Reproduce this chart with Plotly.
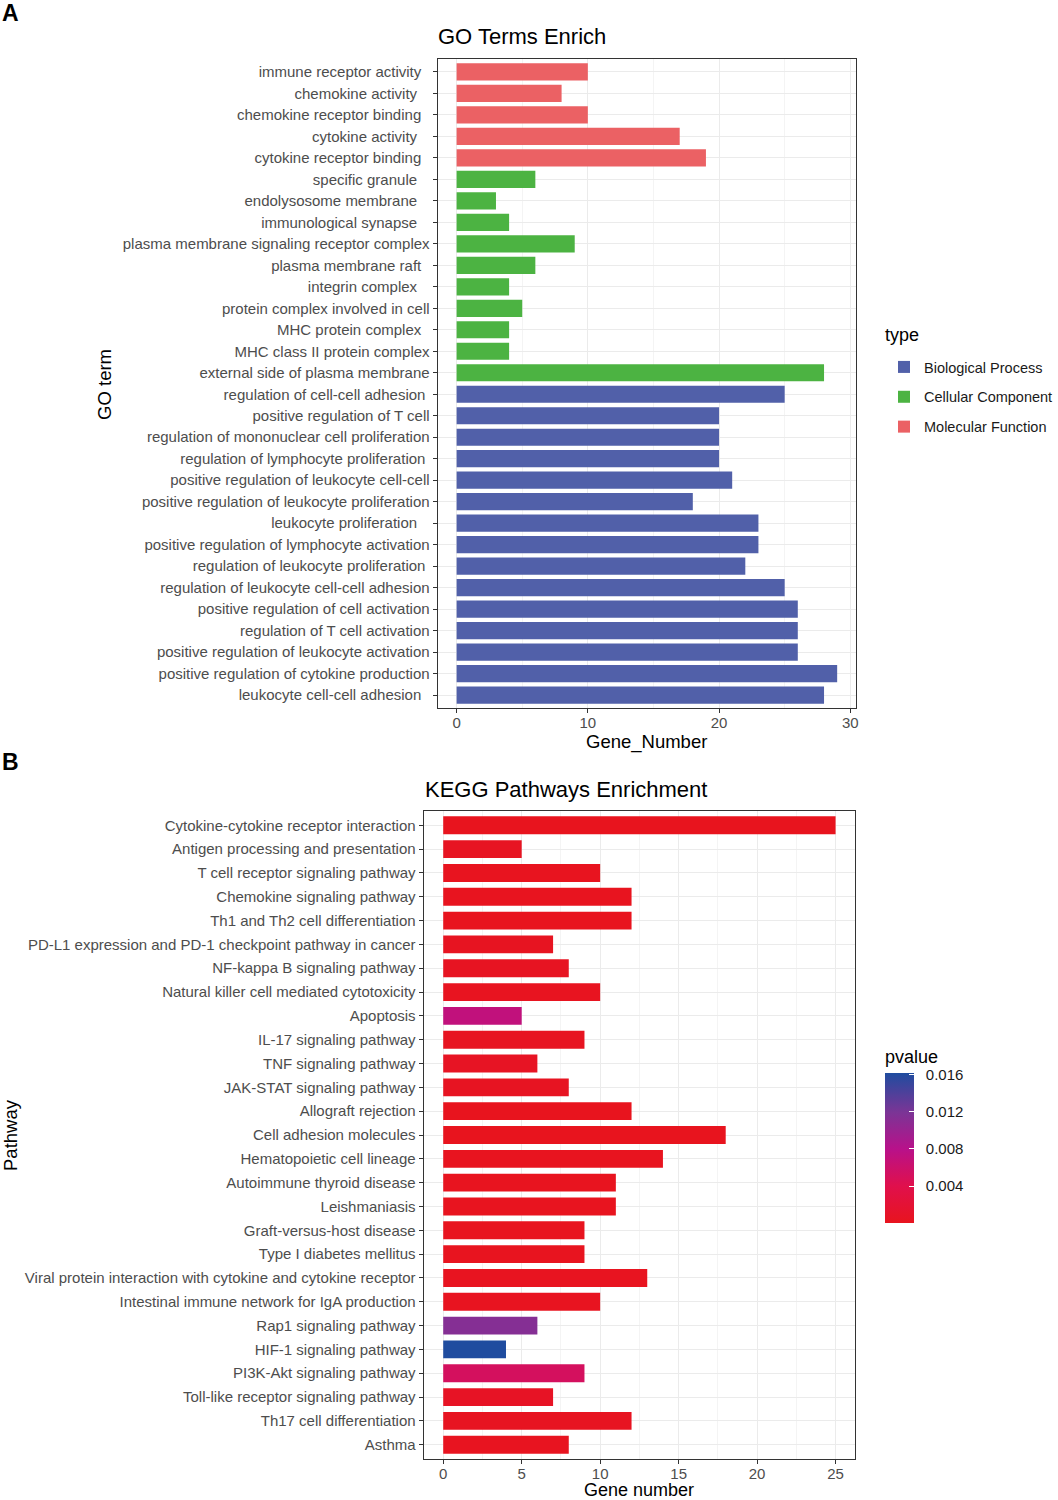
import plotly.graph_objects as go

# ---------------- data ----------------
go_terms = [
    "immune receptor activity  ", "chemokine activity   ", "chemokine receptor binding  ",
    "cytokine activity   ", "cytokine receptor binding  ", "specific granule   ",
    "endolysosome membrane   ", "immunological synapse   ",
    "plasma membrane signaling receptor complex", "plasma membrane raft  ",
    "integrin complex   ", "protein complex involved in cell", "MHC protein complex  ",
    "MHC class II protein complex", "external side of plasma membrane",
    "regulation of cell-cell adhesion ", "positive regulation of T cell",
    "regulation of mononuclear cell proliferation", "regulation of lymphocyte proliferation ",
    "positive regulation of leukocyte cell-cell", "positive regulation of leukocyte proliferation",
    "leukocyte proliferation   ", "positive regulation of lymphocyte activation",
    "regulation of leukocyte proliferation ", "regulation of leukocyte cell-cell adhesion",
    "positive regulation of cell activation", "regulation of T cell activation",
    "positive regulation of leukocyte activation", "positive regulation of cytokine production",
    "leukocyte cell-cell adhesion  ",
]
go_counts = [10, 8, 10, 17, 19, 6, 3, 4, 9, 6, 4, 5, 4, 4, 28,
             25, 20, 20, 20, 21, 18, 23, 23, 22, 25, 26, 26, 26, 29, 28]
go_types = (["Molecular Function"] * 5 + ["Cellular Component"] * 10
            + ["Biological Process"] * 15)
type_order = ["Biological Process", "Cellular Component", "Molecular Function"]
type_colors = ["#5160A9", "#4CB342", "#EB6164"]

kegg_pathways = [
    "Cytokine-cytokine receptor interaction", "Antigen processing and presentation",
    "T cell receptor signaling pathway", "Chemokine signaling pathway",
    "Th1 and Th2 cell differentiation", "PD-L1 expression and PD-1 checkpoint pathway in cancer",
    "NF-kappa B signaling pathway", "Natural killer cell mediated cytotoxicity",
    "Apoptosis", "IL-17 signaling pathway", "TNF signaling pathway",
    "JAK-STAT signaling pathway", "Allograft rejection", "Cell adhesion molecules",
    "Hematopoietic cell lineage", "Autoimmune thyroid disease", "Leishmaniasis",
    "Graft-versus-host disease", "Type I diabetes mellitus",
    "Viral protein interaction with cytokine and cytokine receptor",
    "Intestinal immune network for IgA production", "Rap1 signaling pathway",
    "HIF-1 signaling pathway", "PI3K-Akt signaling pathway",
    "Toll-like receptor signaling pathway", "Th17 cell differentiation", "Asthma",
]
kegg_counts = [25, 5, 10, 12, 12, 7, 8, 10, 5, 9, 6, 8, 12, 18, 14, 11, 11,
               9, 9, 13, 10, 6, 4, 9, 7, 12, 8]
kegg_pvalues = [0.00001, 0.0004, 0.0001, 0.0001, 0.00005, 0.0003, 0.0004, 0.0002,
                0.0071, 0.0003, 0.0005, 0.0004, 0.00005, 0.00002, 0.0001, 0.00006,
                0.0001, 0.0001, 0.0001, 0.0002, 0.0002, 0.0113, 0.0162, 0.0052,
                0.0006, 0.0003, 0.0002]
p_ticks = [0.004, 0.008, 0.012, 0.016]

# ---------------- layout helpers ----------------
W, H = 1058, 1500
def px(x):
    return x / W
def py(y):
    return 1 - y / H

BASE_FONT = "Liberation Sans, Arial, sans-serif"
TICK_FONT = dict(family=BASE_FONT, size=15, color="#4D4D4D")

fig = go.Figure()

for t, c in zip(type_order, type_colors):
    ys = [term for term, tt in zip(go_terms, go_types) if tt == t]
    xs = [v for v, tt in zip(go_counts, go_types) if tt == t]
    fig.add_trace(go.Bar(
        x=xs, y=ys, orientation="h", name=t, width=0.8, legendgroup=t,
        marker=dict(color=c, line=dict(width=0)),
        xaxis="x", yaxis="y", showlegend=True,
    ))

colorscale = [
    [0.0, "#E8141E"],
    [0.247, "#E0104C"],
    [0.494, "#B8118A"],
    [0.741, "#7A3596"],
    [1.0, "#1F4C9F"],
]
fig.add_trace(go.Bar(
    x=kegg_counts, y=kegg_pathways, orientation="h", width=0.75,
    marker=dict(
        color=kegg_pvalues, colorscale=colorscale,
        cmin=min(kegg_pvalues), cmax=max(kegg_pvalues), line=dict(width=0),
        showscale=True,
        colorbar=dict(
            x=px(885), xanchor="left", y=py(1148), yanchor="middle",
            len=150, lenmode="pixels", thickness=29,
            tickvals=p_ticks,
            ticktext=["\u00a0\u00a0" + f"{v:.3f}" for v in p_ticks],
            ticks="inside", tickcolor="#FFFFFF", ticklen=5,
            outlinewidth=0, xpad=0, ypad=0,
            tickfont=dict(family=BASE_FONT, size=15, color="#1A1A1A"),
        ),
    ),
    xaxis="x2", yaxis="y2", showlegend=False,
))

axis_common = dict(
    showgrid=True, gridcolor="#EBEBEB", gridwidth=1,
    showline=True, mirror=True, linecolor="#333333", linewidth=1,
    ticks="outside", ticklen=4, tickcolor="#333333", tickwidth=1,
    tickfont=TICK_FONT, zeroline=False,
)

fig.update_layout(
    width=W, height=H,
    margin=dict(l=0, r=0, t=0, b=0),
    paper_bgcolor="white", plot_bgcolor="white",
    barmode="overlay",
    font=dict(family=BASE_FONT),
    xaxis=dict(domain=[px(438), px(857)], anchor="y", range=[-1.45, 30.45],
               tick0=0, dtick=10, ticklabelstandoff=-3,
               minor=dict(dtick=5, showgrid=True, gridcolor="#F4F4F4", ticks=""),
               **axis_common),
    yaxis=dict(domain=[py(708), py(59)], anchor="x", type="category",
               categoryorder="array", categoryarray=go_terms,
               range=[len(go_terms) - 0.4, -0.6], **axis_common),
    xaxis2=dict(domain=[px(424), px(856)], anchor="y2", range=[-1.25, 26.25],
                tick0=0, dtick=5, ticklabelstandoff=-3,
                minor=dict(dtick=2.5, showgrid=True, gridcolor="#F4F4F4", ticks=""),
                **axis_common),
    yaxis2=dict(domain=[py(1459), py(811)], anchor="x2", type="category",
                categoryorder="array", categoryarray=kegg_pathways,
                range=[len(kegg_pathways) - 0.4, -0.6], **axis_common),
    legend=dict(
        x=px(885), y=py(351), xanchor="left", yanchor="top",
        font=dict(family=BASE_FONT, size=14.5, color="#1A1A1A"),
        traceorder="grouped", itemwidth=30, bgcolor="rgba(0,0,0,0)",
        tracegroupgap=8,
    ),
)

ann = [
    dict(text="<b>A</b>", x=px(0), y=py(13), xanchor="left", yanchor="middle",
         font=dict(size=23, color="#000000")),
    dict(text="<b>B</b>", x=px(0), y=py(762), xanchor="left", yanchor="middle",
         font=dict(size=23, color="#000000")),
    dict(text="GO Terms Enrich", x=px(436), y=py(37), xanchor="left", yanchor="middle",
         font=dict(size=22, color="#000000")),
    dict(text="KEGG Pathways Enrichment", x=px(423), y=py(789), xanchor="left",
         yanchor="middle", font=dict(size=22, color="#000000")),
    dict(text="Gene_Number", x=px(647), y=py(742), xanchor="center", yanchor="middle",
         font=dict(size=18.5, color="#000000")),
    dict(text="Gene number", x=px(640), y=py(1490), xanchor="center", yanchor="middle",
         font=dict(size=18, color="#000000")),
    dict(text="GO term", x=px(104), y=py(384), xanchor="center", yanchor="middle",
         textangle=-90, font=dict(size=18.5, color="#000000")),
    dict(text="Pathway", x=px(10), y=py(1135), xanchor="center", yanchor="middle",
         textangle=-90, font=dict(size=18.5, color="#000000")),
    dict(text="type", x=px(884), y=py(335), xanchor="left", yanchor="middle",
         font=dict(size=18, color="#000000")),
    dict(text="pvalue", x=px(884), y=py(1057), xanchor="left", yanchor="middle",
         font=dict(size=18, color="#000000")),
]
for a in ann:
    a.update(xref="paper", yref="paper", showarrow=False)
    a["font"]["family"] = BASE_FONT
fig.update_layout(annotations=ann)

fig.write_html("out.html",
               config={"displayModeBar": False},
               post_script="document.body.style.margin='0px';")
